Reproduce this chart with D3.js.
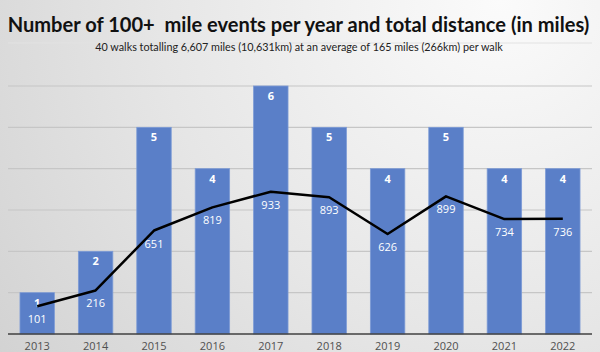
<!DOCTYPE html>
<html><head><meta charset="utf-8">
<script src="https://cdn.jsdelivr.net/npm/d3@7"></script>
<style>html,body{margin:0;padding:0;background:#fff}svg{display:block}</style>
</head><body>
<svg id="c" width="600" height="352"></svg>
<script>
const years = ["2013","2014","2015","2016","2017","2018","2019","2020","2021","2022"];
const events = [1,2,5,4,6,5,4,5,4,4];
const miles = [101,216,651,819,933,893,626,899,734,736];
const countTicks = [1,2,3,4,5,6];
const titleText = "Number of 100+  mile events per year and total distance (in miles)";
const subtitleText = "40 walks totalling 6,607 miles (10,631km) at an average of 165 miles (266km) per walk";

const W = 600, H = 352;
const svg = d3.select("#c");
const defs = svg.append("defs");
const grad = defs.append("radialGradient").attr("id","bg")
  .attr("gradientUnits","userSpaceOnUse").attr("cx",500).attr("cy",0).attr("r",620);
grad.append("stop").attr("offset","0%").attr("stop-color","#fbfbfb");
grad.append("stop").attr("offset","55%").attr("stop-color","#e6e6e6");
grad.append("stop").attr("offset","100%").attr("stop-color","#d2d2d2");
svg.append("rect").attr("width",W).attr("height",H).attr("fill","url(#bg)");

const x = d3.scaleBand().domain(years).range([8,592]).paddingInner(0.41).paddingOuter(0.205);
const y = d3.scaleLinear().domain([0,6]).range([334,86]);
const y2 = d3.scaleLinear().domain([-100,1700]).range([334,86]);

// gridlines
svg.append("g").selectAll("line").data(countTicks).join("line")
  .attr("x1",8).attr("x2",592).attr("y1",d=>y(d)).attr("y2",d=>y(d))
  .attr("stroke","#c6c6c6").attr("stroke-width",1.2);

// title separator
svg.append("line").attr("x1",8).attr("x2",592).attr("y1",43).attr("y2",43)
  .attr("stroke","#e2e2e2").attr("stroke-width",1);

// bars
svg.append("g").selectAll("rect").data(years).join("rect")
  .attr("x",d=>x(d)).attr("width",x.bandwidth())
  .attr("y",(d,i)=>y(events[i])).attr("height",(d,i)=>y(0)-y(events[i]))
  .attr("fill","#5a7fc8").attr("stroke","#7d9bd6").attr("stroke-width",0.8);

// axis
const ax = svg.append("g").attr("transform","translate(0,334)")
  .call(d3.axisBottom(x).tickSize(0).tickPadding(8));
ax.select(".domain").attr("stroke","#404040").attr("stroke-width",1.5).attr("d","M8,0H592");
ax.selectAll("text").attr("font-family","'Open Sans', sans-serif").attr("font-size",11)
  .attr("fill","#505050");

// bar labels
svg.append("g").selectAll("text").data(years).join("text")
  .attr("x",d=>x(d)+x.bandwidth()/2).attr("y",(d,i)=>y(events[i])+14)
  .attr("text-anchor","middle").attr("font-family","'Open Sans', sans-serif")
  .attr("font-weight","bold").attr("font-size",11).attr("fill","#ffffff")
  .text((d,i)=>events[i]);

// line
const line = d3.line().x((d,i)=>x(years[i])+x.bandwidth()/2).y(d=>y2(d));
svg.append("path").datum(miles).attr("d",line).attr("fill","none")
  .attr("stroke","#000").attr("stroke-width",2.5).attr("stroke-linejoin","round");

// line labels
svg.append("g").selectAll("text").data(miles).join("text")
  .attr("x",(d,i)=>x(years[i])+x.bandwidth()/2).attr("y",d=>y2(d)+17)
  .attr("text-anchor","middle").attr("font-family","'Open Sans', sans-serif")
  .attr("font-size",11).attr("fill","#ffffff").text(d=>d);

// title & subtitle, sized to fit the reference widths
function fitText(sel, target){
  const base = +sel.attr("font-size");
  const w = sel.node().getComputedTextLength();
  sel.attr("font-size", (base*target/w).toFixed(2));
}
const title = svg.append("text").attr("x",298.5).attr("y",32).attr("text-anchor","middle")
  .attr("font-family","Lato, 'Open Sans', sans-serif").attr("font-weight","bold")
  .attr("font-size",22).attr("fill","#111").style("white-space","pre").text(titleText);
fitText(title, 582);
const sub = svg.append("text").attr("x",299).attr("y",51).attr("text-anchor","middle")
  .attr("font-family","Lato, 'Open Sans', sans-serif")
  .attr("font-size",12).attr("fill","#222").text(subtitleText);
fitText(sub, 408);
</script>
</body></html>
